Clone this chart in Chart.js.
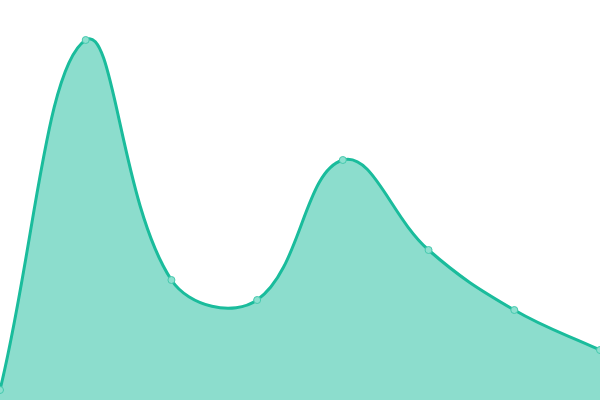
<!DOCTYPE html>
<html>
<head>
<meta charset="utf-8">
<script src="https://cdn.jsdelivr.net/npm/chart.js@4"></script>
<style>
  html, body { margin: 0; padding: 0; background: #fff; }
  #wrap { width: 600px; height: 400px; }
</style>
</head>
<body>
<div id="wrap"><canvas id="myChart"></canvas></div>
<script>
var labels = ['1', '2', '3', '4', '5', '6', '7', '8'];
var values = [10, 360, 120, 100, 240, 150, 90, 50];
var yMin = 0;
var yMax = 400;

var ctx = document.getElementById('myChart').getContext('2d');
var myChart = new Chart(ctx, {
  type: 'line',
  data: {
    labels: labels,
    datasets: [{
      data: values,
      fill: true,
      tension: 0.4,
      borderColor: '#1abc9c',
      backgroundColor: 'rgba(26,188,156,0.5)',
      borderWidth: 3,
      pointRadius: 3.5,
      pointBorderWidth: 1,
      pointBorderColor: '#45c8ad',
      pointBackgroundColor: '#8ce0cf'
    }]
  },
  options: {
    responsive: true,
    maintainAspectRatio: false,
    animation: false,
    layout: { padding: 0, autoPadding: false },
    plugins: {
      legend: { display: false },
      tooltip: { enabled: false }
    },
    scales: {
      x: { display: false },
      y: { display: false, min: yMin, max: yMax }
    }
  }
});
</script>
</body>
</html>
